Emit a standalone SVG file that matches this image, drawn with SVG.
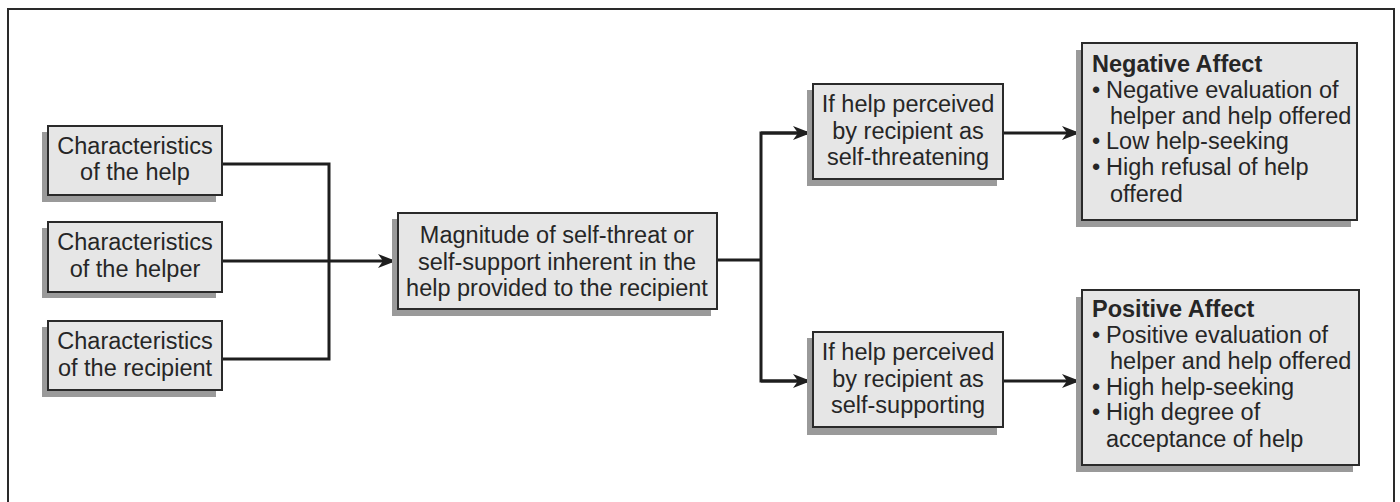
<svg xmlns="http://www.w3.org/2000/svg" width="1400" height="502" viewBox="0 0 1400 502">
  <defs>
    <marker id="arrow" markerUnits="userSpaceOnUse" markerWidth="20" markerHeight="16" refX="18" refY="8" orient="auto">
      <path d="M0,1 L18,8 L0,15 L5,8 Z" fill="#1e1e1e"/>
    </marker>
  </defs>
  <style>
    .frame { fill: none; stroke: #2a2a2a; stroke-width: 2; }
    .box { fill: #e6e6e6; stroke: #2a2a2a; stroke-width: 2; }
    .shadow { fill: #9a9a9a; }
    .lbl { font-family: "Liberation Sans", Arial, sans-serif; font-size: 23.5px; fill: #262626; }
    .mid { text-anchor: middle; }
    .title { font-weight: bold; }
    .wire { fill: none; stroke: #1e1e1e; stroke-width: 3; }
  </style>

  <rect width="1400" height="502" fill="#ffffff"/>
  <!-- outer frame -->
  <rect class="frame" x="8" y="9" width="1386" height="510"/>

  <!-- connectors -->
  <g id="connectors">
    <polyline class="wire" points="222,164 329,164 329,359 222,359"/>
    <line class="wire" x1="222" y1="261" x2="396" y2="261" marker-end="url(#arrow)"/>
    <polyline class="wire" points="717,260 761,260"/>
    <polyline class="wire" points="811,133 761,133 761,381 811,381"/>
    <line class="wire" x1="761" y1="133" x2="811" y2="133" marker-end="url(#arrow)"/>
    <line class="wire" x1="761" y1="381" x2="811" y2="381" marker-end="url(#arrow)"/>
    <line class="wire" x1="1003" y1="133" x2="1080" y2="133" marker-end="url(#arrow)"/>
    <line class="wire" x1="1003" y1="381" x2="1080" y2="381" marker-end="url(#arrow)"/>
  </g>

  <!-- input characteristics -->
  <g id="help">
    <rect class="shadow" x="42" y="132" width="174" height="70"/>
    <rect class="box" x="48" y="126" width="174" height="69"/>
    <text class="lbl mid" x="135" y="154">Characteristics</text>
    <text class="lbl mid" x="135" y="180">of the help</text>
  </g>
  <g id="helper">
    <rect class="shadow" x="42" y="228" width="174" height="70"/>
    <rect class="box" x="48" y="222" width="174" height="70"/>
    <text class="lbl mid" x="135" y="250">Characteristics</text>
    <text class="lbl mid" x="135" y="277">of the helper</text>
  </g>
  <g id="recipient">
    <rect class="shadow" x="42" y="327" width="174" height="70"/>
    <rect class="box" x="48" y="321" width="174" height="69"/>
    <text class="lbl mid" x="135" y="349">Characteristics</text>
    <text class="lbl mid" x="135" y="376">of the recipient</text>
  </g>

  <!-- central magnitude node -->
  <g id="magnitude">
    <rect class="shadow" x="392" y="219" width="319" height="97"/>
    <rect class="box" x="398" y="213" width="319" height="96"/>
    <text class="lbl mid" x="557" y="243">Magnitude of self-threat or</text>
    <text class="lbl mid" x="557" y="270">self-support inherent in the</text>
    <text class="lbl mid" x="557" y="296">help provided to the recipient</text>
  </g>

  <!-- perception branches -->
  <g id="threatening">
    <rect class="shadow" x="807" y="90" width="190" height="96"/>
    <rect class="box" x="813" y="84" width="190" height="95"/>
    <text class="lbl mid" x="908" y="112">If help perceived</text>
    <text class="lbl mid" x="908" y="139">by recipient as</text>
    <text class="lbl mid" x="908" y="165">self-threatening</text>
  </g>
  <g id="supporting">
    <rect class="shadow" x="807" y="338" width="190" height="97"/>
    <rect class="box" x="813" y="332" width="190" height="95"/>
    <text class="lbl mid" x="908" y="360">If help perceived</text>
    <text class="lbl mid" x="908" y="387">by recipient as</text>
    <text class="lbl mid" x="908" y="413">self-supporting</text>
  </g>

  <!-- outcomes -->
  <g id="negative-affect">
    <rect class="shadow" x="1076" y="50" width="275" height="177"/>
    <rect class="box" x="1082" y="43" width="275" height="177"/>
    <text class="lbl title" x="1092" y="72">Negative Affect</text>
    <text class="lbl" x="1092" y="98">•</text>
    <text class="lbl" x="1106" y="98">Negative evaluation of</text>
    <text class="lbl" x="1110" y="124">helper and help offered</text>
    <text class="lbl" x="1092" y="149">•</text>
    <text class="lbl" x="1106" y="149">Low help-seeking</text>
    <text class="lbl" x="1092" y="175">•</text>
    <text class="lbl" x="1106" y="175">High refusal of help</text>
    <text class="lbl" x="1110" y="202">offered</text>
  </g>
  <g id="positive-affect">
    <rect class="shadow" x="1076" y="297" width="277" height="175"/>
    <rect class="box" x="1082" y="290" width="277" height="175"/>
    <text class="lbl title" x="1092" y="317">Positive Affect</text>
    <text class="lbl" x="1092" y="343">•</text>
    <text class="lbl" x="1106" y="343">Positive evaluation of</text>
    <text class="lbl" x="1110" y="369">helper and help offered</text>
    <text class="lbl" x="1092" y="395">•</text>
    <text class="lbl" x="1106" y="395">High help-seeking</text>
    <text class="lbl" x="1092" y="420">•</text>
    <text class="lbl" x="1106" y="420">High degree of</text>
    <text class="lbl" x="1106" y="447">acceptance of help</text>
  </g>
</svg>
